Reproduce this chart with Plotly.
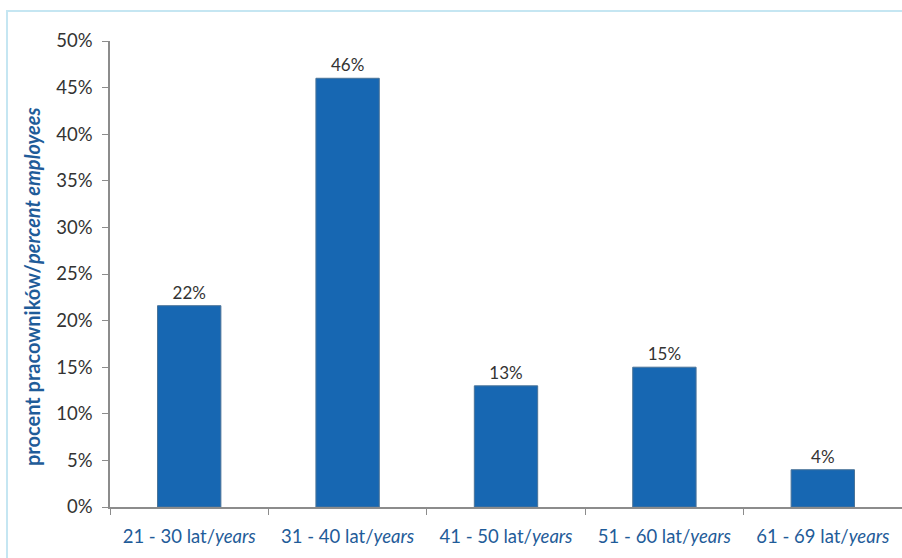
import plotly.graph_objects as go

# Age groups and share of employees
age_groups = ["21 - 30 lat/<i>years</i>", "31 - 40 lat/<i>years</i>", "41 - 50 lat/<i>years</i>",
              "51 - 60 lat/<i>years</i>", "61 - 69 lat/<i>years</i>"]
shares = [0.216, 0.46, 0.13, 0.15, 0.04]
y_ticks = [0, 0.05, 0.10, 0.15, 0.20, 0.25, 0.30, 0.35, 0.40, 0.45, 0.50]

W, H = 902, 558
L, R, T, B = 110, 0, 41, 51
pw, ph = W - L - R, H - T - B

def px_x(x):
    return (x - L) / pw

def px_y(y):
    return (H - B - y) / ph

fig = go.Figure(go.Bar(
    x=age_groups,
    y=shares,
    width=0.4,
    marker=dict(color="#1767B2", line=dict(color="#4A7398", width=1)),
    text=shares,
    texttemplate="%{y:.0%}",
    textposition="outside",
    textfont=dict(family="Lato", size=17, color="#333333"),
    cliponaxis=False,
))

fig.update_layout(
    width=W, height=H,
    margin=dict(l=L, r=R, t=T, b=B),
    paper_bgcolor="white", plot_bgcolor="white",
    font=dict(family="Lato"),
    showlegend=False,
    xaxis=dict(
        showline=True, linecolor="#8C8C8C", linewidth=1.5,
        ticks="outside", tickson="boundaries", ticklen=6, tickcolor="#8C8C8C",
        tickfont=dict(family="Lato", size=18.5, color="#1F5C99"),
        ticklabelstandoff=12,
        showgrid=False,
    ),
    yaxis=dict(
        range=[0, 0.5], tickvals=y_ticks, tickformat=".0%",
        showline=True, linecolor="#8C8C8C", linewidth=1.5,
        ticks="outside", ticklen=6, tickcolor="#8C8C8C",
        tickfont=dict(family="Lato", size=18.5, color="#333333"),
        ticklabelstandoff=6,
        showgrid=False, zeroline=False,
    ),
    annotations=[dict(
        text="<b>procent pracowników/<i>percent employees</i></b>",
        xref="paper", yref="paper", x=px_x(32), y=px_y(287),
        xanchor="center", yanchor="middle",
        textangle=-90, showarrow=False,
        font=dict(family="Lato", size=20, color="#1F5C99"),
    )],
    shapes=[dict(
        type="rect", xref="paper", yref="paper",
        x0=px_x(7), x1=px_x(910), y0=px_y(570), y1=px_y(11),
        line=dict(color="#C5E6F2", width=2), fillcolor="rgba(0,0,0,0)", layer="below",
    )],
)

fig.write_html("out.html")
